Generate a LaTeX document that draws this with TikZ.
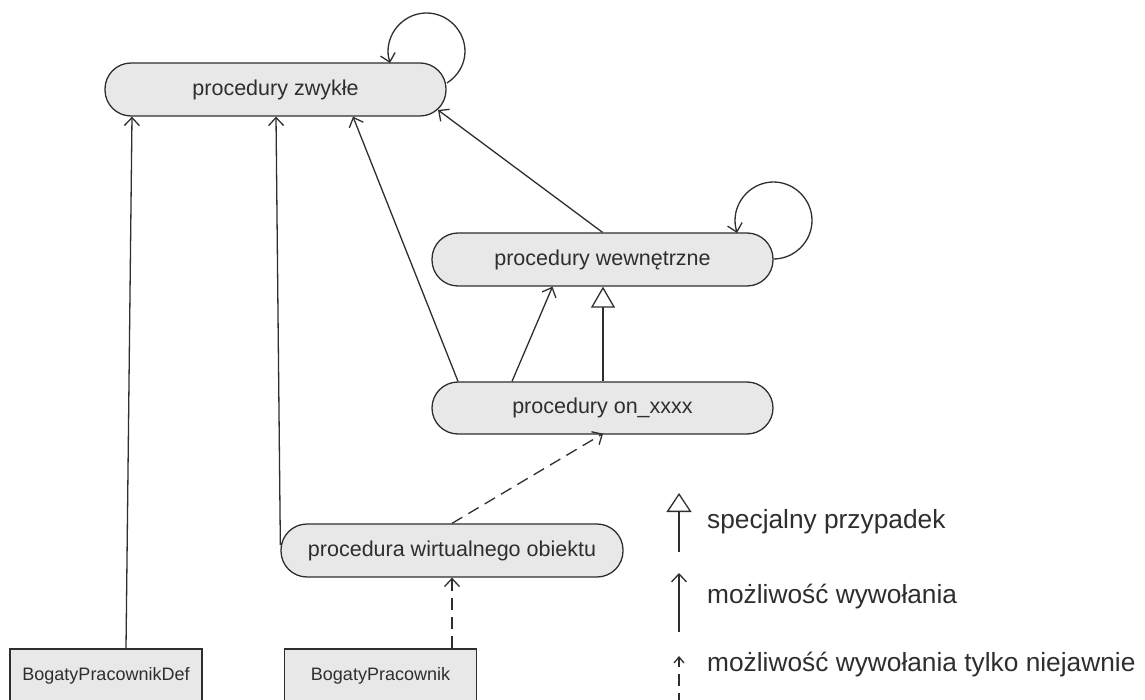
\documentclass[tikz,border=0pt]{standalone}
\usepackage{fontspec}
\setmainfont{Liberation Sans}
\usetikzlibrary{arrows.meta}
\definecolor{boxfill}{HTML}{E8E8E8}
\definecolor{ink}{HTML}{2E2E2E}
\begin{document}
\begin{tikzpicture}[x=1pt,y=-1pt,
  proc/.style={draw=ink, fill=boxfill, line width=1.3pt, rounded corners=26pt,
    minimum width=341pt, minimum height=53pt, inner sep=0pt,
    font=\fontsize{21.5}{25}\selectfont, text=ink},
  cls/.style={draw=ink, fill=boxfill, line width=1.3pt,
    minimum width=192pt, minimum height=54pt, inner sep=0pt,
    font=\fontsize{18}{22}\selectfont, text=ink},
  legtext/.style={anchor=west, inner sep=0pt, font=\fontsize{26.3}{31}\selectfont, text=ink},
  call/.style={draw=ink, line width=1.3pt, -{Straight Barb[length=8pt,width=15pt,line width=1.3pt]}},
  implicit/.style={call, dash pattern=on 12pt off 7pt},
  special/.style={draw=ink, line width=1.3pt, -{Triangle[open, length=21pt, width=24pt, line width=1.3pt, fill=white]}}
]
\useasboundingbox (0,0) rectangle (1145,700);
\clip (0,0) rectangle (1145,700);

% procedure kinds
\node[proc] (zw)   at (275.5,89.5) {procedury zwykłe};
\node[proc] (wew)  at (602.5,259.5) {procedury wewnętrzne};
\node[proc, minimum height=52pt] (on) at (602.5,408) {procedury on\_xxxx};
\node[proc, minimum width=342pt] (wirt) at (452,550.5) {procedura wirtualnego obiektu};

% classes
\node[cls] (bpd) at (106,676) {BogatyPracownikDef};
\node[cls] (bp)  at (380.5,676) {BogatyPracownik};

% calls between kinds
\draw[call] ([xshift=20pt]bpd.north) -- ([xshift=-143.5pt]zw.south);
\draw[call] ([yshift=5.5pt]wirt.west) -- ([xshift=0.5pt]zw.south);
\draw[call] ([xshift=-144.5pt]on.north) -- ([xshift=77.5pt]zw.south);
\draw[call] (wew.north) -- (438,110);
\draw[call] ([xshift=-90.5pt]on.north) -- ([xshift=-50pt]wew.south);
\draw[special] ([xshift=0.5pt]on.north) -- ([xshift=0.5pt]wew.south);
\draw[implicit] (wirt.north) -- ([xshift=0.5pt,yshift=1pt]on.south);
\draw[implicit] ([xshift=71.5pt]bp.north) -- (wirt.south);

% recursive calls
\draw[call] (447,83) .. controls (458,76) and (465,64) .. (465,51.5)
  .. controls (465,30.5) and (447.5,13) .. (426.5,13)
  .. controls (405.5,13) and (388,30.5) .. (388,51.5)
  .. controls (388,56) and (389,59) .. (390,63);
\draw[call] (773.5,259) .. controls (794.5,259) and (812,241.5) .. (812,220.5)
  .. controls (812,199.5) and (794.5,182) .. (773.5,182)
  .. controls (752.5,182) and (735,199.5) .. (735,220.5)
  .. controls (735,225) and (736,229) .. (737,233);

% legend
\coordinate (l1s) at (679,552);
\coordinate (l1e) at (679,493);
\coordinate (l2s) at (679,632);
\coordinate (l2e) at (679,573);
\coordinate (l3s) at (679,705);
\coordinate (l3e) at (679,656);
\draw[special, -{Triangle[open, length=19pt, width=25pt, line width=1.3pt, fill=white]}] (l1s) -- (l1e);
\draw[call] (l2s) -- (l2e);
\draw[implicit, -{Straight Barb[length=6pt,width=10pt,line width=1.3pt]}] (l3s) -- (l3e);
\node[legtext] (t1) at (707,522) {specjalny przypadek};
\node[legtext] (t2) at (707,597) {możliwość wywołania};
\node[legtext] (t3) at (707,665) {możliwość wywołania tylko niejawnie};
\end{tikzpicture}
\end{document}
